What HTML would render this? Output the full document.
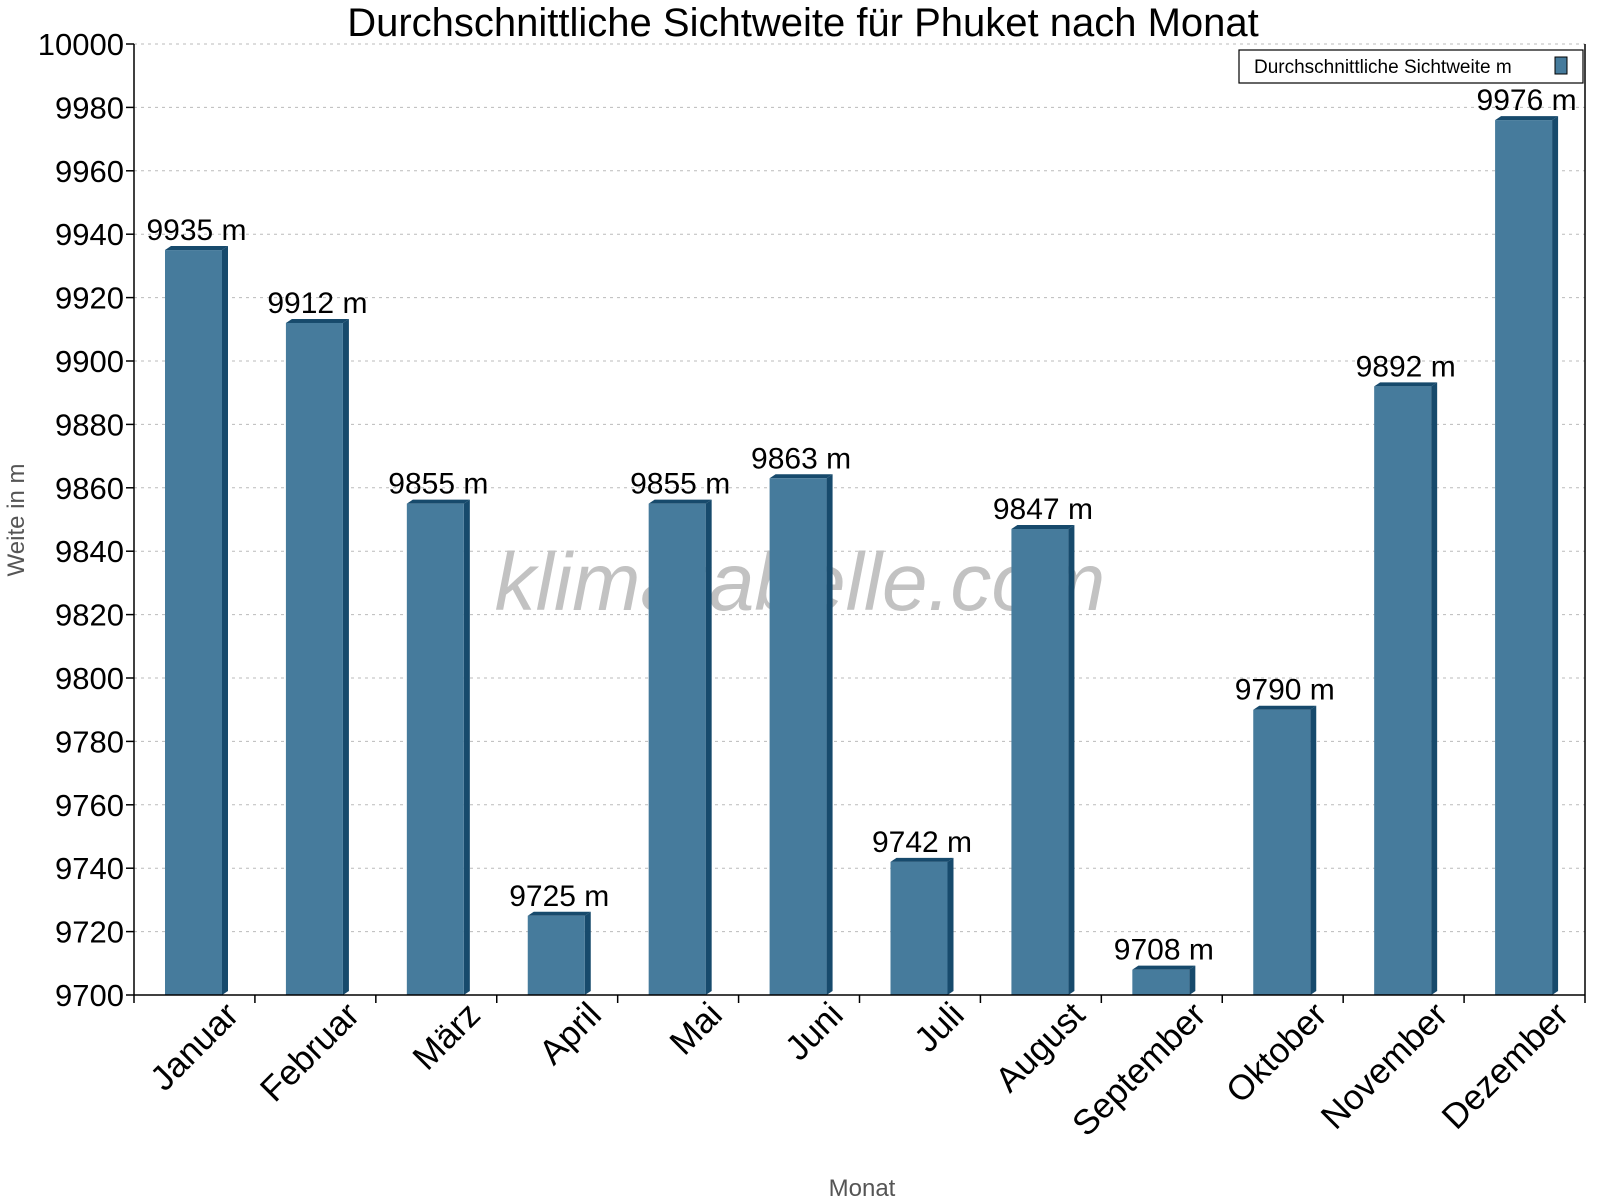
<!DOCTYPE html>
<html><head><meta charset="utf-8"><style>body{margin:0;background:#fff}svg{display:block;font-family:"Liberation Sans",sans-serif}</style></head>
<body>
<svg id="chart" width="1600" height="1200" viewBox="0 0 1600 1200" xmlns="http://www.w3.org/2000/svg">
<text x="803" y="36" font-size="40" text-anchor="middle">Durchschnittliche Sichtweite für Phuket nach Monat</text>
<text x="800" y="610" font-size="82" font-style="italic" fill="#999" fill-opacity="0.6" text-anchor="middle">klimatabelle.com</text>
<g id="grid"></g><g id="bars"></g><g id="axes"></g>
<text transform="translate(24,520) rotate(-90)" font-size="24" fill="#555" text-anchor="middle">Weite in m</text>
<text x="862" y="1196" font-size="24" fill="#555" text-anchor="middle">Monat</text>
<g>
<rect x="1239" y="50" width="344" height="33" fill="#fff" stroke="#000" stroke-width="1.2"/>
<text x="1254" y="73" font-size="19">Durchschnittliche Sichtweite m</text>
<rect x="1555" y="57" width="12" height="17" fill="#467b9c" stroke="#000" stroke-width="1"/>
</g>
</svg>
<script>
const categories=["Januar","Februar","März","April","Mai","Juni","Juli","August","September","Oktober","November","Dezember"];
const values=[9935,9912,9855,9725,9855,9863,9742,9847,9708,9790,9892,9976];
const yTicks=[9700,9720,9740,9760,9780,9800,9820,9840,9860,9880,9900,9920,9940,9960,9980,10000];
const L=134,R=1585,T=44,B=995,yMin=9700,yMax=10000;
const ns="http://www.w3.org/2000/svg";
const bw=(R-L)/categories.length;
function y(v){return B-(v-yMin)/(yMax-yMin)*(B-T);}
function xb(i){return L+i*bw;}
function mk(t,a,p){const e=document.createElementNS(ns,t);for(const k in a)e.setAttribute(k,a[k]);p.appendChild(e);return e;}
const grid=document.getElementById('grid'),bars=document.getElementById('bars'),axes=document.getElementById('axes');
yTicks.forEach(v=>{
 const g=mk('line',{x1:L,x2:R,y1:y(v),y2:y(v),stroke:'#bbb','stroke-dasharray':'3,4'},grid);
 
 
 const tk=mk('line',{x1:L-8,x2:L,y1:y(v),y2:y(v),stroke:'#000','stroke-width':1.5},axes);
 
 
 const t=mk('text',{x:L-10,y:y(v)+11,'font-size':31,'text-anchor':'end'},axes);
 t.textContent=v;
 
 
});
values.forEach((v,i)=>{
 const x0=xb(i)+31,w=57,d=6,yt=y(v);
 const g=mk('g',{},bars);
 
 
 mk('polygon',{points:`${x0+w},${yt} ${x0+w+d},${yt-4} ${x0+w+d},${B-4} ${x0+w},${B}`,fill:'#174a6c'},g);
 mk('polygon',{points:`${x0},${yt} ${x0+d},${yt-4} ${x0+w+d},${yt-4} ${x0+w},${yt}`,fill:'#174a6c'},g);
 mk('rect',{x:x0,y:yt,width:w,height:B-yt,fill:'#467b9c'},g);
 const t=mk('text',{x:x0+w/2+3,y:yt-10,'font-size':30,'text-anchor':'middle'},g);
 t.textContent=v+' m';
 
 
 const tk=mk('line',{x1:xb(i+1),x2:xb(i+1),y1:B,y2:B+8,stroke:'#000','stroke-width':1.5},axes);
 
 
 const cx=xb(i)+bw/2+46,cy=B+22;
 const l=mk('text',{x:cx,y:cy,'font-size':35,'text-anchor':'end',transform:`rotate(-45 ${cx} ${cy})`},axes);
 l.textContent=categories[i];
 
 
});
const tk0=mk('line',{x1:L,x2:L,y1:B,y2:B+8,stroke:'#000','stroke-width':1.5},axes);
mk('line',{x1:L,x2:L,y1:T,y2:B,stroke:'#000','stroke-width':1.5},axes);
mk('line',{x1:L,x2:R,y1:B,y2:B,stroke:'#000','stroke-width':1.5},axes);
mk('line',{x1:R,x2:R,y1:T,y2:B,stroke:'#000','stroke-width':1.5},axes);
</script>
</body></html>
